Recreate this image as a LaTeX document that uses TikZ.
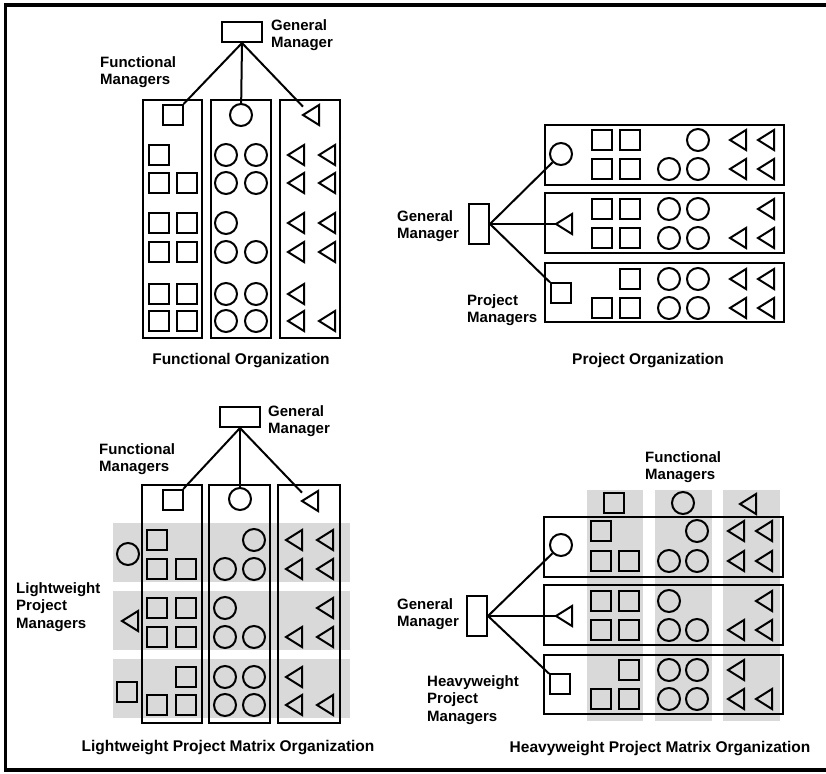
\documentclass[tikz,border=0pt]{standalone}
\usepackage{fontspec}
\setmainfont{Liberation Sans}
\begin{document}
\begin{tikzpicture}[x=1pt,y=-1pt,
  stroke/.style={line width=2pt},
  sq/.style={draw, stroke, rectangle, minimum size=20pt, inner sep=0},
  ci/.style={draw, stroke, circle, minimum size=22pt, inner sep=0},
  tr/.style={rectangle, minimum width=16pt, minimum height=20pt, inner sep=0, outer sep=0,
    append after command={\pgfextra{\draw[stroke, line join=miter]
      (\tikzlastnode.west) -- (\tikzlastnode.north east) -- (\tikzlastnode.south east) -- cycle;}}},
  gmh/.style={draw, stroke, rectangle, minimum width=40pt, minimum height=20pt, inner sep=0},
  gmv/.style={draw, stroke, rectangle, minimum width=20pt, minimum height=40pt, inner sep=0},
  colbox/.style={draw, stroke},
  band/.style={fill=black!15, draw=none},
  link/.style={stroke},
  lbl/.style={font=\fontsize{15}{17.5}\selectfont\bfseries, align=left, anchor=north west, inner sep=0},
  captext/.style={font=\fontsize{15.5}{18}\selectfont\bfseries, anchor=base, inner sep=0}]

\useasboundingbox (0,0) rectangle (826,773);
% outer frame (right side runs off the page)
\draw[line width=3.5pt] (830,5) -- (5.5,5) -- (5.5,770) -- (830,770);

% ---------------- Functional Organization ----------------
\draw[colbox] (143,100) rectangle (202,338);
\draw[colbox] (211,100) rectangle (271,338);
\draw[colbox] (280,100) rectangle (340,338);
\node[gmh] (fgm) at (242,32) {};
\node[lbl] (fgmlbl) at (271,19) {General\\Manager};
\node[lbl] (ffmlbl) at (100,56) {Functional\\Managers};
\node[sq] (ffms) at (173,115) {};
\node[ci] (ffmc) at (241,115) {};
\node[tr] (ffmt) at (311,115) {};
\draw[link] (fgm.south) -- (ffms);
\draw[link] (fgm.south) -- (ffmc);
\draw[link] (fgm.south) -- (ffmt);
\foreach \x/\y [count=\i] in {159/155, 159/183,187/183, 159/223,187/223,
    159/252,187/252, 159/294,187/294, 159/321,187/321}
  \node[sq] (fs\i) at (\x,\y) {};
\foreach \x/\y [count=\i] in {226/155,256/155, 226/183,256/183, 226/223,
    226/252,256/252, 226/294,256/294, 226/321,256/321}
  \node[ci] (fc\i) at (\x,\y) {};
\foreach \x/\y [count=\i] in {296/155,327/155, 296/183,327/183, 296/223,327/223,
    296/252,327/252, 296/294, 296/321,327/321}
  \node[tr] (ft\i) at (\x,\y) {};
\node[captext] (fcap) at (241,364) {Functional Organization};

% ---------------- Project Organization ----------------
\draw[colbox] (545,125) rectangle (784,185);
\draw[colbox] (545,193) rectangle (784,253);
\draw[colbox] (545,263) rectangle (784,322);
\node[gmv] (pgm) at (479,224) {};
\node[lbl] (pgmlbl) at (397,210) {General\\Manager};
\node[lbl] (ppmlbl) at (467,294) {Project\\Managers};
\node[ci] (ppmc) at (561,154) {};
\node[tr] (ppmt) at (564,224) {};
\node[sq] (ppms) at (561,293) {};
\draw[link] (pgm.east) -- (ppmc);
\draw[link] (pgm.east) -- (ppmt);
\draw[link] (pgm.east) -- (ppms);
\foreach \x/\y [count=\i] in {602/140,630/140, 602/169,630/169, 602/209,630/209,
    602/238,630/238, 630/279, 602/308,630/308}
  \node[sq] (ps\i) at (\x,\y) {};
\foreach \x/\y [count=\i] in {698/140, 669/169,698/169, 669/209,698/209,
    669/238,698/238, 669/279,698/279, 669/308,698/308}
  \node[ci] (pc\i) at (\x,\y) {};
\foreach \x/\y [count=\i] in {738/140,766/140, 738/169,766/169, 766/209,
    738/238,766/238, 738/279,766/279, 738/308,766/308}
  \node[tr] (pt\i) at (\x,\y) {};
\node[captext] (pcap) at (648,364) {Project Organization};

% ---------------- Lightweight Project Matrix Organization ----------------
\fill[band] (113,523) rectangle (350,582);
\fill[band] (113,591) rectangle (350,650);
\fill[band] (113,659) rectangle (350,718);
\draw[colbox] (142,485) rectangle (202,723);
\draw[colbox] (209,485) rectangle (270,723);
\draw[colbox] (278,485) rectangle (340,723);
\node[gmh] (lgm) at (240,417) {};
\node[lbl] (lgmlbl) at (268,405) {General\\Manager};
\node[lbl] (lfmlbl) at (99,443) {Functional\\Managers};
\node[lbl] (lpmlbl) at (16,582) {Lightweight\\Project\\Managers};
\node[sq] (lfms) at (173,500) {};
\node[ci] (lfmc) at (240,499) {};
\node[tr] (lfmt) at (310,501) {};
\draw[link] (lgm.south) -- (lfms);
\draw[link] (lgm.south) -- (lfmc);
\draw[link] (lgm.south) -- (lfmt);
\node[ci] (lpmc) at (128,554) {};
\node[tr] (lpmt) at (130,621) {};
\node[sq] (lpms) at (127,692) {};
\foreach \x/\y [count=\i] in {157/540, 157/569,186/569, 157/608,186/608,
    157/637,186/637, 186/677, 157/705,186/705}
  \node[sq] (ls\i) at (\x,\y) {};
\foreach \x/\y [count=\i] in {254/540, 225/569,254/569, 225/608,
    225/637,254/637, 225/677,254/677, 225/705,254/705}
  \node[ci] (lc\i) at (\x,\y) {};
\foreach \x/\y [count=\i] in {294/540,325/540, 294/569,325/569, 325/608,
    294/637,325/637, 294/677, 294/705,325/705}
  \node[tr] (lt\i) at (\x,\y) {};
\node[captext] (lcap) at (228,751) {Lightweight Project Matrix Organization};

% ---------------- Heavyweight Project Matrix Organization ----------------
\fill[band] (587,490) rectangle (643,721);
\fill[band] (655,490) rectangle (712,721);
\fill[band] (723,490) rectangle (780,721);
\draw[colbox] (544,517) rectangle (783,577);
\draw[colbox] (544,585) rectangle (783,645);
\draw[colbox] (544,655) rectangle (783,714);
\node[lbl] (hfmlbl) at (645,451) {Functional\\Managers};
\node[sq] (hfms) at (614,503) {};
\node[ci] (hfmc) at (683,503) {};
\node[tr] (hfmt) at (748,504) {};
\node[gmv] (hgm) at (477,616) {};
\node[lbl] (hgmlbl) at (397,598) {General\\Manager};
\node[lbl] (hpmlbl) at (427,675) {Heavyweight\\Project\\Managers};
\node[ci] (hpmc) at (561,545) {};
\node[tr] (hpmt) at (564,616) {};
\node[sq] (hpms) at (560,684) {};
\draw[link] (hgm.east) -- (hpmc);
\draw[link] (hgm.east) -- (hpmt);
\draw[link] (hgm.east) -- (hpms);
\foreach \x/\y [count=\i] in {601/531, 601/561,629/561, 601/601,629/601,
    601/630,629/630, 629/670, 601/699,629/699}
  \node[sq] (hs\i) at (\x,\y) {};
\foreach \x/\y [count=\i] in {697/531, 669/561,697/561, 669/601,
    669/630,697/630, 669/670,697/670, 669/699,697/699}
  \node[ci] (hc\i) at (\x,\y) {};
\foreach \x/\y [count=\i] in {736/531,764/531, 736/561,764/561, 764/601,
    736/630,764/630, 736/670, 736/699,764/699}
  \node[tr] (ht\i) at (\x,\y) {};
\node[captext] (hcap) at (660,752.5) {Heavyweight Project Matrix Organization};

\end{tikzpicture}
\end{document}
